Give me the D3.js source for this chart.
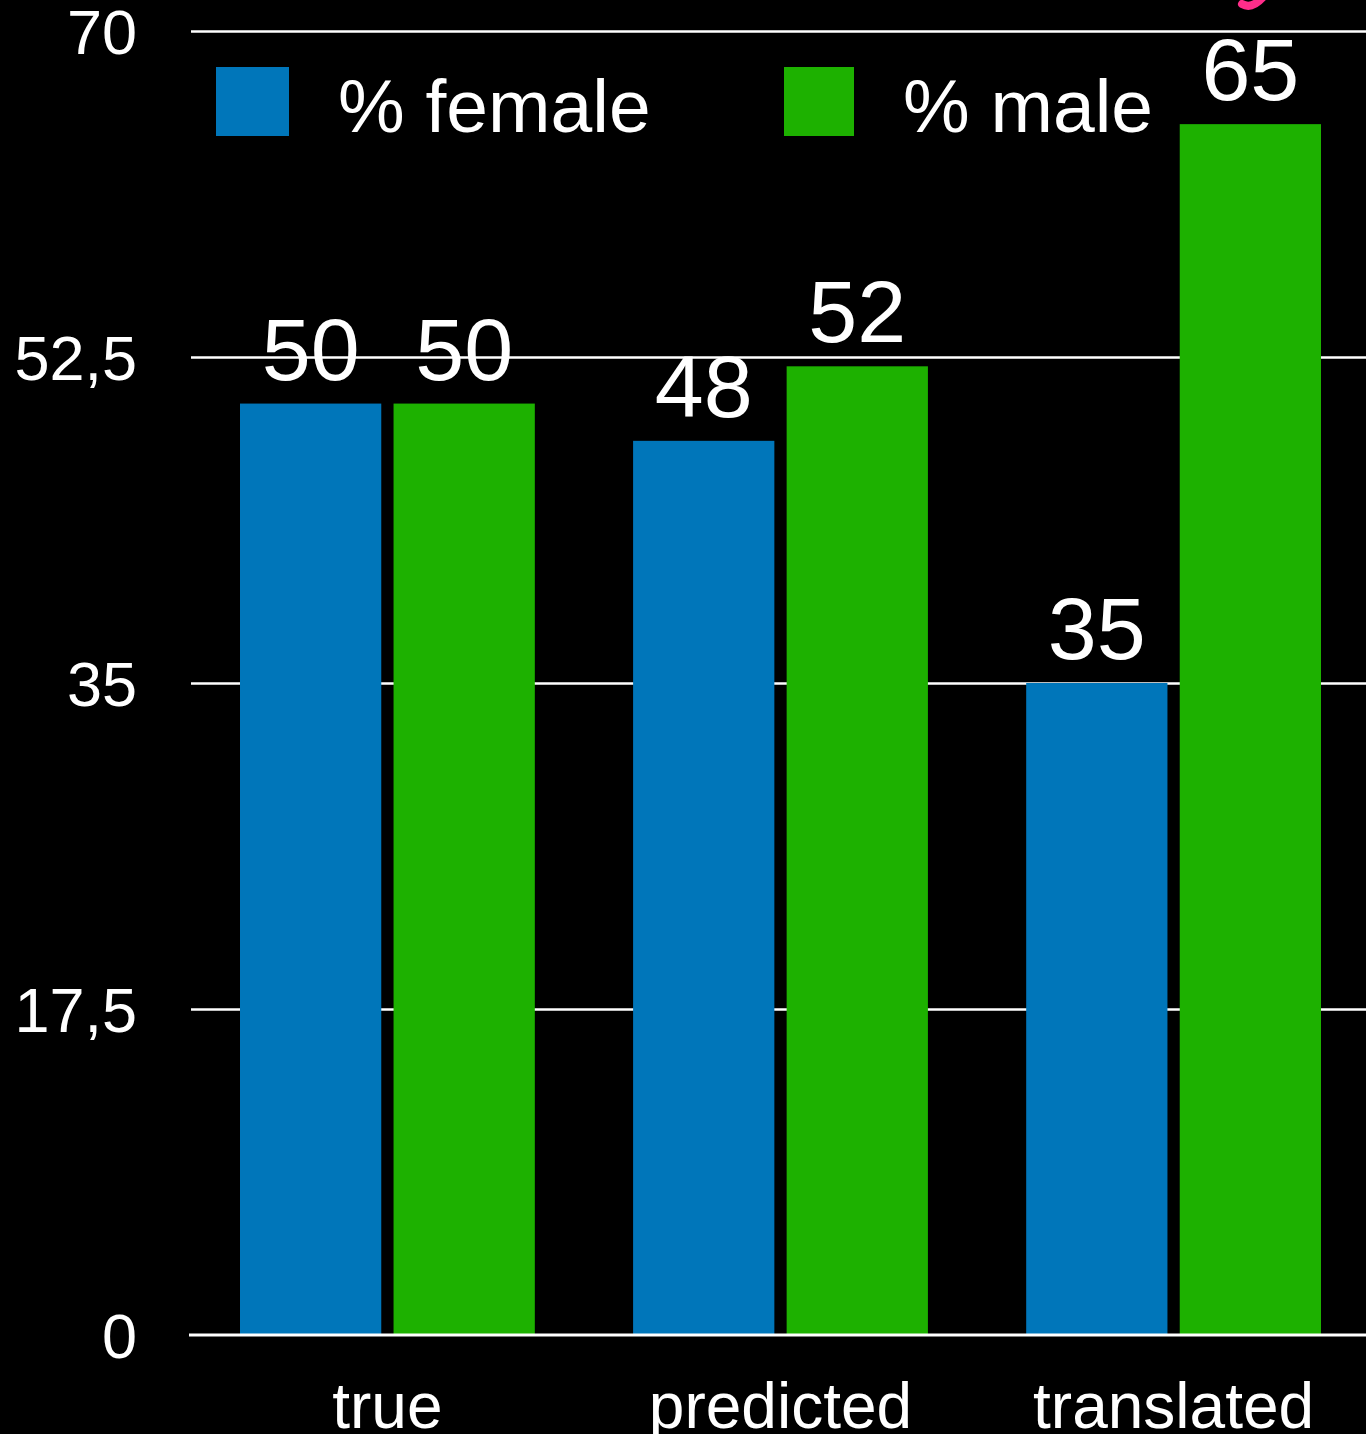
<!DOCTYPE html>
<html>
<head>
<meta charset="utf-8">
<script src="https://cdn.jsdelivr.net/npm/d3@7"></script>
<style>
  html, body { margin: 0; padding: 0; background: #000; }
  svg { display: block; }
</style>
</head>
<body>
<svg id="chart" width="1366" height="1434"></svg>
<script>
const categories = ["true", "predicted", "translated"];
const seriesNames = ["% female", "% male"];
const femaleValues = [50, 48, 35];
const maleValues = [50, 52, 65];
const yTicks = [0, 17.5, 35, 52.5, 70];
const seriesColors = ["#0076BA", "#1DB100"];

const svg = d3.select("#chart");
const W = 1366, H = 1434;
svg.append("rect").attr("width", W).attr("height", H).attr("fill", "#000");

const font = "'Liberation Sans', Helvetica, Arial, sans-serif";

const y = d3.scaleLinear().domain([0, 70]).range([1335, 31]);
const x0 = d3.scaleBand().domain(categories).range([240, 1321]).paddingInner(0.25).paddingOuter(0);
const x1 = d3.scaleBand().domain(seriesNames).range([0, x0.bandwidth()]).paddingInner(0.08).paddingOuter(0);

// gridlines
const grid = svg.append("g");
grid.selectAll("line").data(yTicks.filter(t => t > 0)).join("line")
  .attr("x1", 191).attr("x2", W)
  .attr("y1", d => Math.round(y(d)) + 0.5).attr("y2", d => Math.round(y(d)) + 0.5)
  .attr("stroke", "#fff").attr("stroke-width", 2.5);

// y axis labels
const fmt = d => String(d).replace(".", ",");
const yAxis = d3.axisLeft(y).tickValues(yTicks).tickFormat(fmt).tickSize(0).tickPadding(0);
const ya = svg.append("g").attr("transform", "translate(137,0)").call(yAxis);
ya.select(".domain").remove();
ya.selectAll("text").attr("fill", "#fff").attr("font-family", font).attr("font-size", 63).attr("dy", "0.36em");

// bars
const data = categories.map((c, i) => ({ cat: c, vals: [femaleValues[i], maleValues[i]] }));
const groups = svg.append("g").selectAll("g").data(data).join("g")
  .attr("transform", d => `translate(${x0(d.cat)},0)`);
groups.selectAll("rect").data(d => d.vals.map((v, j) => ({ v, s: seriesNames[j], j })))
  .join("rect")
  .attr("x", d => x1(d.s))
  .attr("width", x1.bandwidth())
  .attr("y", d => y(d.v))
  .attr("height", d => y(0) - y(d.v))
  .attr("fill", d => seriesColors[d.j]);
groups.selectAll("text").data(d => d.vals.map((v, j) => ({ v, s: seriesNames[j], j })))
  .join("text")
  .attr("x", d => x1(d.s) + x1.bandwidth() / 2)
  .attr("y", d => y(d.v) - 24)
  .attr("text-anchor", "middle")
  .attr("fill", "#fff").attr("font-family", font).attr("font-size", 88)
  .text(d => d.v);

// baseline
svg.append("line").attr("x1", 189).attr("x2", W).attr("y1", 1335).attr("y2", 1335)
  .attr("stroke", "#fff").attr("stroke-width", 3);

// category labels
const xAxis = d3.axisBottom(x0).tickSize(0).tickPadding(0);
const xa = svg.append("g").attr("transform", "translate(0,1428)").call(xAxis);
xa.select(".domain").remove();
xa.selectAll("text").attr("fill", "#fff").attr("font-family", font).attr("font-size", 64).attr("dy", 0);

// legend
const legendX = [216, 784];
const legend = svg.append("g").selectAll("g").data(seriesNames).join("g")
  .attr("transform", (d, i) => `translate(${legendX[i]},67)`);
legend.append("rect").attr("width", (d, i) => i === 0 ? 73 : 70).attr("height", 69)
  .attr("fill", (d, i) => seriesColors[i]);
legend.append("text").attr("x", (d, i) => i === 0 ? 122 : 119).attr("y", 65)
  .attr("fill", "#fff").attr("font-family", font).attr("font-size", 75)
  .text(d => d);

// pink annotation stroke (clipped at top)
svg.append("path").attr("d", "M1242,4 Q1252,10 1264,-4")
  .attr("fill", "none").attr("stroke", "#FF2D8A").attr("stroke-width", 8).attr("stroke-linecap", "round");
</script>
</body>
</html>
